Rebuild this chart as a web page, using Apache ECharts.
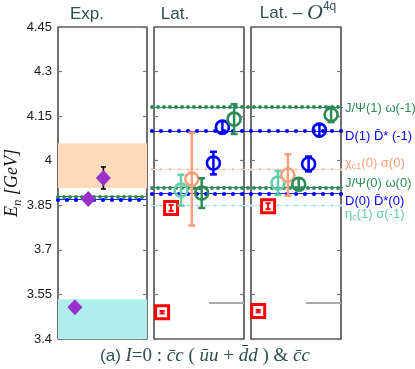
<!DOCTYPE html>
<html><head><meta charset="utf-8">
<script src="https://cdn.jsdelivr.net/npm/echarts@6/dist/echarts.min.js"></script>
<style>html,body{margin:0;padding:0;background:#fff}#c{width:415px;height:369px}</style>
</head><body><div id="c"></div>
<script>
// ---- axis ----
const yMin = 3.4, yMax = 4.45, yStep = 0.15;
// ---- experiment panel ----
const expX = [0.19, 0.34, 0.51];
const expE = [3.507, 3.871, 3.942];
const expErr = [0, 0, 0.037];
const bandCyan = [3.4, 3.534];
const bandOrange = [3.908, 4.059];
const expThrE = [3.878, 3.871];          // J/psi omega, D Dbar*
// ---- thresholds (lattice panels) ----
const thrNames = ['J/Ψ(1) ω(-1)', 'D(1) D̄* (-1)', 'χc1(0) σ(0)', 'J/Ψ(0) ω(0)', 'D(0) D̄*(0)', 'ηc(1) σ(-1)'];
const thrE = [4.184, 4.096, 3.972, 3.911, 3.894, 3.847];
const grayE = 3.521, grayStart = 0.61;
// ---- lattice states (kind: 0 square, 1 teal, 2 orange, 3 green, 4 blue) ----
const stateKind = [0, 0, 1, 2, 3, 4, 4, 3];
const latX = [0.09, 0.19, 0.30, 0.42, 0.53, 0.66, 0.76, 0.89];
const latE = [3.490, 3.841, 3.901, 3.938, 3.891, 3.992, 4.113, 4.140];
const latErr = [0.004, 0.010, 0.052, 0.156, 0.050, 0.038, 0.020, 0.050];
const o4qX = [0.08, 0.19, 0.30, 0.41, 0.53, 0.64, 0.76, 0.89];
const o4qE = [3.494, 3.847, 3.925, 3.952, 3.921, 3.989, 4.103, 4.155];
const o4qErr = [0.004, 0.010, 0.040, 0.070, 0.020, 0.025, 0.020, 0.025];

const kindColor = ['#ff0000', '#66cdaa', '#ffa07a', '#2e8b57', '#0000ff'];
const thrStyle = [
  {c:'#2e8b57', d:'#2e8b57', w:1, dw:4, gap:6},
  {c:'#1f1fff', d:'#0000ff', w:1.2, dw:4.2, gap:9},
  {c:'#ffd9c6', d:'#ffc4a6', w:1, dw:2.6, gap:9},
  {c:'#2e8b57', d:'#2e8b57', w:1, dw:4, gap:6},
  {c:'#1f1fff', d:'#0000ff', w:1.2, dw:4.2, gap:9},
  {c:'#c4f0f0', d:'#a8e6e6', w:1, dw:2.6, gap:9}
];
const expThrStyle = [thrStyle[3], thrStyle[4]];
const labelY = [108, 136, 163, 183, 201, 214];
const labelColor = ['#2e8b57', '#0000ff', '#ffa07a', '#2e8b57', '#0000ff', '#66cdaa'];

const chart = echarts.init(document.getElementById('c'), null, {renderer: 'canvas'});
const TOP = 27, H = 312;
const panels = [[58, 89], [154, 90], [251, 90]];

function lineItems(vals, styles) {
  const out = [];
  vals.forEach((v, i) => {
    const s = styles[i];
    out.push({yAxis: v, lineStyle: {color: s.c, width: s.w, type: 'solid'}});
    out.push({yAxis: v, lineStyle: {color: s.d, width: s.dw, type: [0, s.gap], cap: 'round'}});
  });
  return out;
}
function bar(x, t, b, hw, col, lw) {
  return {type: 'group', children: [
    {type: 'line', shape: {x1: x, y1: t, x2: x, y2: b}, style: {stroke: col, lineWidth: lw}},
    {type: 'line', shape: {x1: x - hw, y1: t, x2: x + hw, y2: t}, style: {stroke: col, lineWidth: lw}},
    {type: 'line', shape: {x1: x - hw, y1: b, x2: x + hw, y2: b}, style: {stroke: col, lineWidth: lw}}
  ]};
}
function stateRenderer(params, api) {
  const x = api.value(0), y = api.value(1), e = api.value(2), k = api.value(3);
  const c = api.coord([x, y]);
  const t = api.coord([x, y + e])[1], b = api.coord([x, y - e])[1];
  const col = kindColor[k];
  const ch = [];
  if (k === 0) {
    ch.push({type: 'rect', shape: {x: c[0] - 6.5, y: c[1] - 6.5, width: 13, height: 13}, style: {fill: '#fff', stroke: col, lineWidth: 3}});
    ch.push(bar(c[0], t, b, 2.5, col, 2));
  } else {
    ch.push(bar(c[0], t, b, 3.5, col, 2.5));
    ch.push({type: 'circle', shape: {cx: c[0], cy: c[1], r: 6.5}, style: {fill: 'transparent', stroke: col, lineWidth: 2.6}});
  }
  return {type: 'group', children: ch};
}
function expBarRenderer(params, api) {
  const x = api.value(0), y = api.value(1), e = api.value(2);
  if (!e) return null;
  const c = api.coord([x, y]);
  const t = api.coord([x, y + e])[1], b = api.coord([x, y - e])[1];
  return bar(c[0], t, b, 2.5, '#000', 1.6);
}

const grids = panels.map(p => ({left: p[0], width: p[1], top: TOP, height: H, show: true, borderColor: '#111', borderWidth: 1.2, backgroundColor: 'transparent', containLabel: false}));
grids.push({left: 152, width: 191, top: TOP, height: H, show: false});

const xAxes = grids.map((g, i) => ({type: 'value', gridIndex: i, min: 0, max: 1, show: false}));
const yAxes = [];
panels.forEach((p, i) => {
  ['left', 'right'].forEach(pos => {
    yAxes.push({
      type: 'value', gridIndex: i, position: pos, min: yMin, max: yMax, interval: yStep,
      axisLine: {show: false}, splitLine: {show: false},
      axisTick: {show: true, inside: true, length: 4, lineStyle: {color: '#777', width: 1.2}},
      axisLabel: {show: i === 0 && pos === 'left', margin: 6, color: '#1a1a1a', fontSize: 13, fontFamily: 'Liberation Sans, Arial, sans-serif',
        formatter: v => String(Math.round(v * 100) / 100)}
    });
  });
});
yAxes.push({type: 'value', gridIndex: 3, min: yMin, max: yMax, show: false});

const mlBase = {symbol: ['none', 'none'], silent: true, label: {show: false}, animation: false};

const series = [
  {type: 'line', xAxisIndex: 0, yAxisIndex: 0, data: [], z: 1,
    markArea: {silent: true, data: [
      [{yAxis: bandCyan[0], itemStyle: {color: '#b0eeee'}}, {yAxis: bandCyan[1]}],
      [{yAxis: bandOrange[0], itemStyle: {color: '#ffdabb'}}, {yAxis: bandOrange[1]}]
    ]},
    markLine: Object.assign({}, mlBase, {data: lineItems(expThrE, expThrStyle)})},
  {type: 'custom', xAxisIndex: 0, yAxisIndex: 0, z: 4, renderItem: expBarRenderer,
    data: expX.map((x, i) => [x, expE[i], expErr[i]])},
  {type: 'scatter', xAxisIndex: 0, yAxisIndex: 0, z: 5, symbol: 'diamond', symbolSize: [15, 16],
    itemStyle: {color: '#9932cc', opacity: 1}, data: expX.map((x, i) => [x, expE[i]])},
  {type: 'line', xAxisIndex: 3, yAxisIndex: 6, data: [], z: 1,
    markLine: Object.assign({}, mlBase, {data: lineItems(thrE, thrStyle)})},
  {type: 'line', xAxisIndex: 1, yAxisIndex: 2, data: [], z: 1,
    markLine: Object.assign({}, mlBase, {data: [[{coord: [grayStart, grayE], lineStyle: {color: '#aaa', width: 2, type: 'solid'}}, {coord: [1, grayE]}]]})},
  {type: 'line', xAxisIndex: 2, yAxisIndex: 4, data: [], z: 1,
    markLine: Object.assign({}, mlBase, {data: [[{coord: [grayStart, grayE], lineStyle: {color: '#aaa', width: 2, type: 'solid'}}, {coord: [1, grayE]}]]})},
  {type: 'custom', xAxisIndex: 1, yAxisIndex: 2, z: 5, renderItem: stateRenderer,
    data: latX.map((x, i) => [x, latE[i], latErr[i], stateKind[i]])},
  {type: 'custom', xAxisIndex: 2, yAxisIndex: 4, z: 5, renderItem: stateRenderer,
    data: o4qX.map((x, i) => [x, o4qE[i], o4qErr[i], stateKind[i]])}
];

const SANS = 'Liberation Sans, Arial, sans-serif';
const SERIF = 'Liberation Serif, Times New Roman, serif';
const TC = '#2f4f4f';

function labelText(i) {
  const n = thrNames[i];
  if (n.startsWith('χc1')) return '{m|χ}{s|c1}{m|' + n.slice(3) + '}';
  if (n.startsWith('ηc')) return '{m|η}{s|c}{m|' + n.slice(2) + '}';
  return '{m|' + n + '}';
}
const graphics = [
  {type: 'text', x: 87, y: 14, style: {text: 'Exp.', fill: TC, font: '17px ' + SANS, align: 'center', verticalAlign: 'middle'}},
  {type: 'text', x: 175, y: 14, style: {text: 'Lat.', fill: TC, font: '17px ' + SANS, align: 'center', verticalAlign: 'middle'}},
  {type: 'text', x: 298, y: 13, style: {text: '{a|Lat. – }{o|O}{p|4q}', align: 'center', verticalAlign: 'middle',
    rich: {a: {fill: TC, font: '17px ' + SANS, lineHeight: 24}, o: {fill: TC, font: 'italic 22px ' + SERIF, lineHeight: 24},
      p: {fill: TC, font: '12px ' + SANS, verticalAlign: 'top', lineHeight: 14}}}},
  {type: 'text', x: 12, y: 183, rotation: Math.PI / 2, style: {text: '{e|E}{s|n}{e| [GeV]}', align: 'center', verticalAlign: 'middle',
    rich: {e: {fill: '#111', font: 'italic 18px ' + SERIF, lineHeight: 24}, s: {fill: '#111', font: 'italic 13px ' + SERIF, verticalAlign: 'bottom', lineHeight: 14}}}},
  {type: 'text', x: 205, y: 356, style: {text: '{s|(a) }{i|I}{r|=0 : }{i|c̄c}{r| ( }{i|ūu}{r| + }{i|d̄d}{r| ) & }{i|c̄c}', align: 'center', verticalAlign: 'middle',
    rich: {s: {fill: TC, font: '17px ' + SANS}, i: {fill: TC, font: 'italic 19px ' + SERIF}, r: {fill: TC, font: '19px ' + SERIF}}}}
];
thrNames.forEach((n, i) => {
  graphics.push({type: 'text', x: 345, y: labelY[i], style: {text: labelText(i), align: 'left', verticalAlign: 'middle',
    rich: {m: {fill: labelColor[i], font: '13px ' + SANS, lineHeight: 16}, s: {fill: labelColor[i], font: '9px ' + SANS, verticalAlign: 'bottom', lineHeight: 10}}}});
});

chart.setOption({
  animation: false,
  backgroundColor: '#fff',
  grid: grids, xAxis: xAxes, yAxis: yAxes, series: series, graphic: graphics
});
</script></body></html>
